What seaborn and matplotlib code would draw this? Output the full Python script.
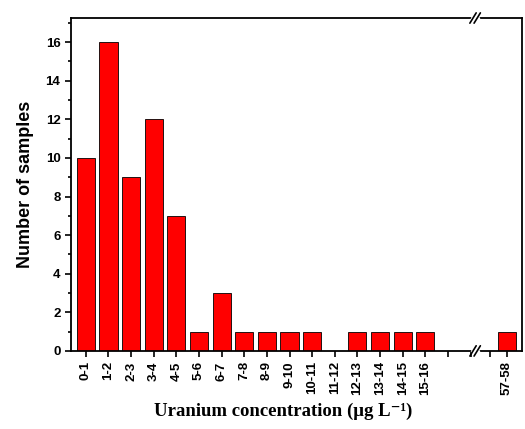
import matplotlib
matplotlib.use('Agg')
import matplotlib.pyplot as plt
import pandas as pd
import seaborn as sns

ranges = ['0-1', '1-2', '2-3', '3-4', '4-5', '5-6', '6-7', '7-8', '8-9', '9-10',
          '10-11', '11-12', '12-13', '13-14', '14-15', '15-16']
counts = [10, 16, 9, 12, 7, 1, 3, 1, 1, 1, 1, 0, 1, 1, 1, 1]
far_range = ['57-58']
far_count = [1]

sns.set_style('ticks')
plt.rcParams['font.family'] = ['Liberation Sans', 'DejaVu Sans']
plt.rcParams['font.weight'] = 'bold'
plt.rcParams['text.color'] = 'black'
plt.rcParams['xtick.color'] = 'black'
plt.rcParams['ytick.color'] = 'black'
plt.rcParams['axes.labelcolor'] = 'black'

fig = plt.figure(figsize=(5.25, 4.29), dpi=100)
ax = fig.add_axes([0.135, 0.182, 0.770, 0.776])
ax2 = fig.add_axes([0.905, 0.182, 0.089, 0.776], sharey=ax)

df = pd.DataFrame({'range': ranges, 'count': counts})
df2 = pd.DataFrame({'range': far_range, 'count': far_count})
sns.barplot(data=df, x='range', y='count', color='#ff0000', edgecolor='black',
            linewidth=0.6, width=0.8, saturation=1, ax=ax)
sns.barplot(data=df2, x='range', y='count', color='#ff0000', edgecolor='black',
            linewidth=0.6, width=0.8, saturation=1, ax=ax2)

ax.set_xlim(-0.66, 17.2)
ax2.set_xlim(-1.42, 0.66)
ax.set_ylim(0, 17.25)

ax.set_xticks(list(range(len(ranges) + 2)))
ax.set_xticklabels(ranges + ['', ''], rotation=90)
ax2.set_xticks([-0.75, 0])
ax2.set_xticklabels(['', far_range[0]], rotation=90)
ax.set_yticks(range(0, 17, 2))
ax.set_yticks(range(1, 18, 2), minor=True)

for a in (ax, ax2):
    a.tick_params(axis='both', labelsize=9.5, width=1.2, length=4, direction='out')
    a.tick_params(axis='y', which='minor', length=2.5, width=1.2)
    a.set_xlabel('')
    a.set_ylabel('')
    for lbl in a.get_xticklabels() + a.get_yticklabels():
        lbl.set_fontweight('bold')
    for s in a.spines.values():
        s.set_linewidth(1.3)
        s.set_color('black')

ax.spines['right'].set_visible(False)
ax2.spines['left'].set_visible(False)
ax2.tick_params(axis='y', which='both', left=False, right=False, labelleft=False)

ax.set_ylabel('Number of samples', fontsize=13, fontweight='bold', labelpad=8)
fig.text(0.54, 0.03, 'Uranium concentration (\u03bcg L\u207b\u00b9)', ha='center',
         fontsize=13.5, fontweight='bold', family=['Liberation Serif', 'DejaVu Serif'])

# break marks
d = 0.006
for y in (0.0, 1.0):
    fig.add_artist(plt.Line2D([0.899, 0.911], [0.182 + 0.776 * y, 0.182 + 0.776 * y],
                              color='white', lw=2.5, transform=fig.transFigure))
    for off in (-0.004, 0.004):
        fig.add_artist(plt.Line2D([0.905 + off - d, 0.905 + off + d],
                                  [0.182 + 0.776 * y - 0.012, 0.182 + 0.776 * y + 0.012],
                                  color='black', lw=1.2, transform=fig.transFigure))

plt.savefig('out.png', dpi=100)
